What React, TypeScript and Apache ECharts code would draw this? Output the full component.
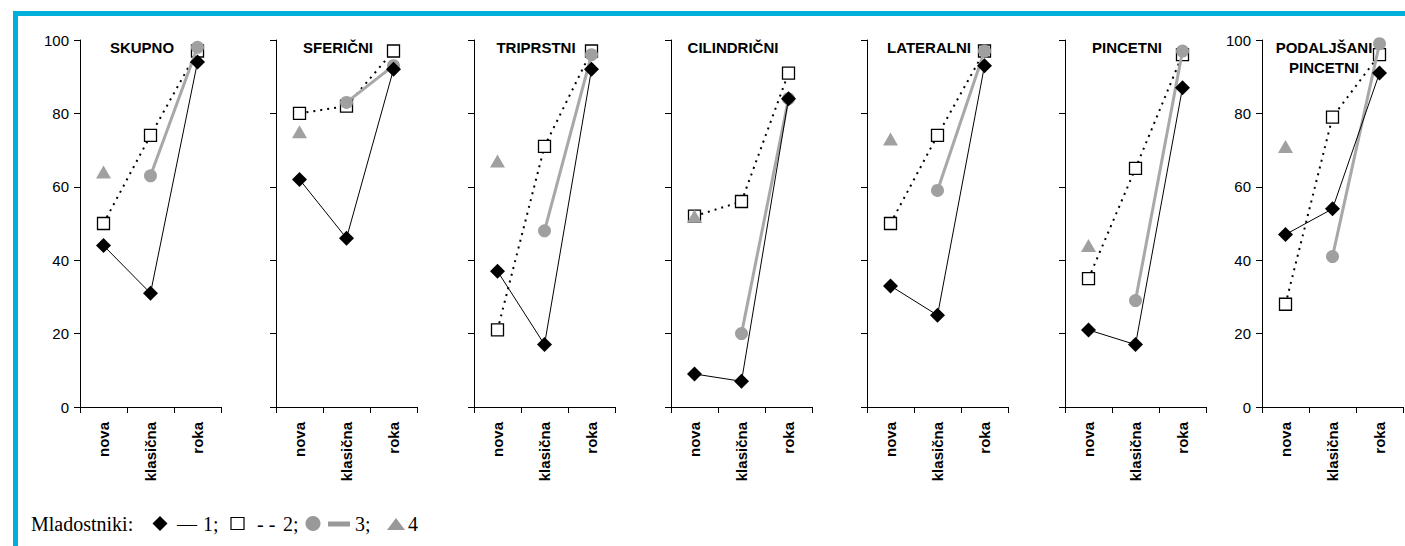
import React, { useEffect, useRef } from "react";
import * as echarts from "echarts";

const categories = ["nova", "klasična", "roka"];
const panelTitles = [
  "SKUPNO",
  "SFERIČNI",
  "TRIPRSTNI",
  "CILINDRIČNI",
  "LATERALNI",
  "PINCETNI",
  "PODALJŠANI\nPINCETNI",
];
const yTicks = [0, 20, 40, 60, 80, 100];

// Mladostniki 1 (black diamonds, solid line)
const group1 = [
  [44, 31, 94],
  [62, 46, 92],
  [37, 17, 92],
  [9, 7, 84],
  [33, 25, 93],
  [21, 17, 87],
  [47, 54, 91],
];
// Mladostniki 2 (open squares, dotted line)
const group2 = [
  [50, 74, 97],
  [80, 82, 97],
  [21, 71, 97],
  [52, 56, 91],
  [50, 74, 97],
  [35, 65, 96],
  [28, 79, 96],
];
// Mladostniki 3 (grey circles, thick grey line)
const group3 = [
  [null, 63, 98],
  [null, 83, 93],
  [null, 48, 96],
  [null, 20, 84],
  [null, 59, 97],
  [null, 29, 97],
  [null, 41, 99],
];
// Mladostniki 4 (grey triangles)
const group4 = [
  [64, null, null],
  [75, null, null],
  [67, null, null],
  [52, null, null],
  [73, null, null],
  [44, null, null],
  [71, null, null],
];

const SANS = "Liberation Sans, Arial, sans-serif";
const SERIF = "Liberation Serif, Times New Roman, serif";
const GREY = "#a0a0a0";
const BLUE = "#00b0db";

export default function App() {
  const ref = useRef<HTMLDivElement>(null);
  useEffect(() => {
    if (!ref.current) return;
    const chart = echarts.init(ref.current, null, { renderer: "svg" });
    const lefts = [80, 276, 474, 671, 867, 1065, 1262];
    const gw = 141;
    const grids = lefts.map((l) => ({ left: l, top: 40, width: gw, height: 367 }));
    const xAxes = lefts.map((_, i) => ({
      type: "category",
      gridIndex: i,
      data: categories,
      boundaryGap: true,
      axisLine: { show: true, lineStyle: { color: "#000", width: 1 } },
      axisTick: { show: true, length: 6, lineStyle: { color: "#000" } },
      axisLabel: {
        interval: 0,
        rotate: 90,
        margin: 15,
        color: "#000",
        fontFamily: SANS,
        fontWeight: "bold",
        fontSize: 15,
      },
      splitLine: { show: false },
    }));
    const yAxes = lefts.map((_, i) => ({
      type: "value",
      gridIndex: i,
      min: yTicks[0],
      max: yTicks[yTicks.length - 1],
      interval: yTicks[1] - yTicks[0],
      axisLine: { show: true, lineStyle: { color: "#000", width: 1 } },
      axisTick: { show: true, length: 6, lineStyle: { color: "#000" } },
      axisLabel: {
        show: i === 0 || i === lefts.length - 1,
        margin: 11,
        color: "#000",
        fontFamily: SANS,
        fontSize: 15,
      },
      splitLine: { show: false },
    }));
    const series: any[] = [];
    lefts.forEach((_, i) => {
      series.push({
        type: "line",
        xAxisIndex: i,
        yAxisIndex: i,
        data: group2[i],
        symbol: "rect",
        symbolSize: 12,
        itemStyle: { color: "#fff", borderColor: "#000", borderWidth: 1.3 },
        lineStyle: { color: "#000", width: 2, type: [2, 5] },
        z: 2,
      });
      series.push({
        type: "line",
        xAxisIndex: i,
        yAxisIndex: i,
        data: group3[i],
        symbol: "circle",
        symbolSize: 13,
        itemStyle: { color: GREY, borderWidth: 0 },
        lineStyle: { color: "#a8a8a8", width: 3 },
        z: 3,
      });
      series.push({
        type: "line",
        xAxisIndex: i,
        yAxisIndex: i,
        data: group1[i],
        symbol: "diamond",
        symbolSize: 15,
        itemStyle: { color: "#000", borderWidth: 0 },
        lineStyle: { color: "#000", width: 1 },
        z: 4,
      });
      series.push({
        type: "line",
        xAxisIndex: i,
        yAxisIndex: i,
        data: group4[i],
        symbol: "triangle",
        symbolSize: [15, 13],
        itemStyle: { color: GREY, borderWidth: 0 },
        lineStyle: { width: 0 },
        z: 5,
      });
    });
    const titles = lefts.map((l, i) => ({
      text: panelTitles[i],
      left: l + 57,
      top: 32,
      textAlign: "center",
      textStyle: {
        fontFamily: SANS,
        fontWeight: "bold",
        fontSize: 15,
        color: "#000",
        lineHeight: 20,
      },
    }));
    const ty = 524;
    const txt = (x: number, t: string) => ({
      type: "text",
      x,
      y: ty,
      style: {
        text: t,
        fill: "#000",
        font: `20px ${SERIF}`,
        textVerticalAlign: "middle",
      },
    });
    const graphic: any[] = [
      { type: "rect", shape: { x: 13, y: 11, width: 1392, height: 5 }, style: { fill: BLUE } },
      { type: "rect", shape: { x: 13, y: 11, width: 5, height: 535 }, style: { fill: BLUE } },
      txt(31, "Mladostniki:"),
      {
        type: "polygon",
        shape: { points: [[160, 516], [167.5, 523.5], [160, 531], [152.5, 523.5]] },
        style: { fill: "#000" },
      },
      txt(177, "—"),
      txt(203, "1;"),
      {
        type: "rect",
        shape: { x: 231, y: 517.5, width: 13, height: 12 },
        style: { fill: "#fff", stroke: "#000", lineWidth: 1.2 },
      },
      txt(257, "- -"),
      txt(283, "2;"),
      { type: "circle", shape: { cx: 313, cy: 523.5, r: 7.5 }, style: { fill: "#999" } },
      {
        type: "line",
        shape: { x1: 328, y1: 524, x2: 350, y2: 524 },
        style: { stroke: "#999", lineWidth: 5 },
      },
      txt(355, "3;"),
      {
        type: "polygon",
        shape: { points: [[387, 530], [405, 530], [396, 518]] },
        style: { fill: "#999" },
      },
      txt(408, "4"),
    ];
    chart.setOption({
      animation: false,
      backgroundColor: "#fff",
      title: titles,
      grid: grids,
      xAxis: xAxes,
      yAxis: yAxes,
      series,
      graphic,
    });
    return () => chart.dispose();
  }, []);
  return (
    <div
      ref={ref}
      style={{ position: "fixed", left: 0, top: 0, width: 1405, height: 546 }}
    />
  );
}
